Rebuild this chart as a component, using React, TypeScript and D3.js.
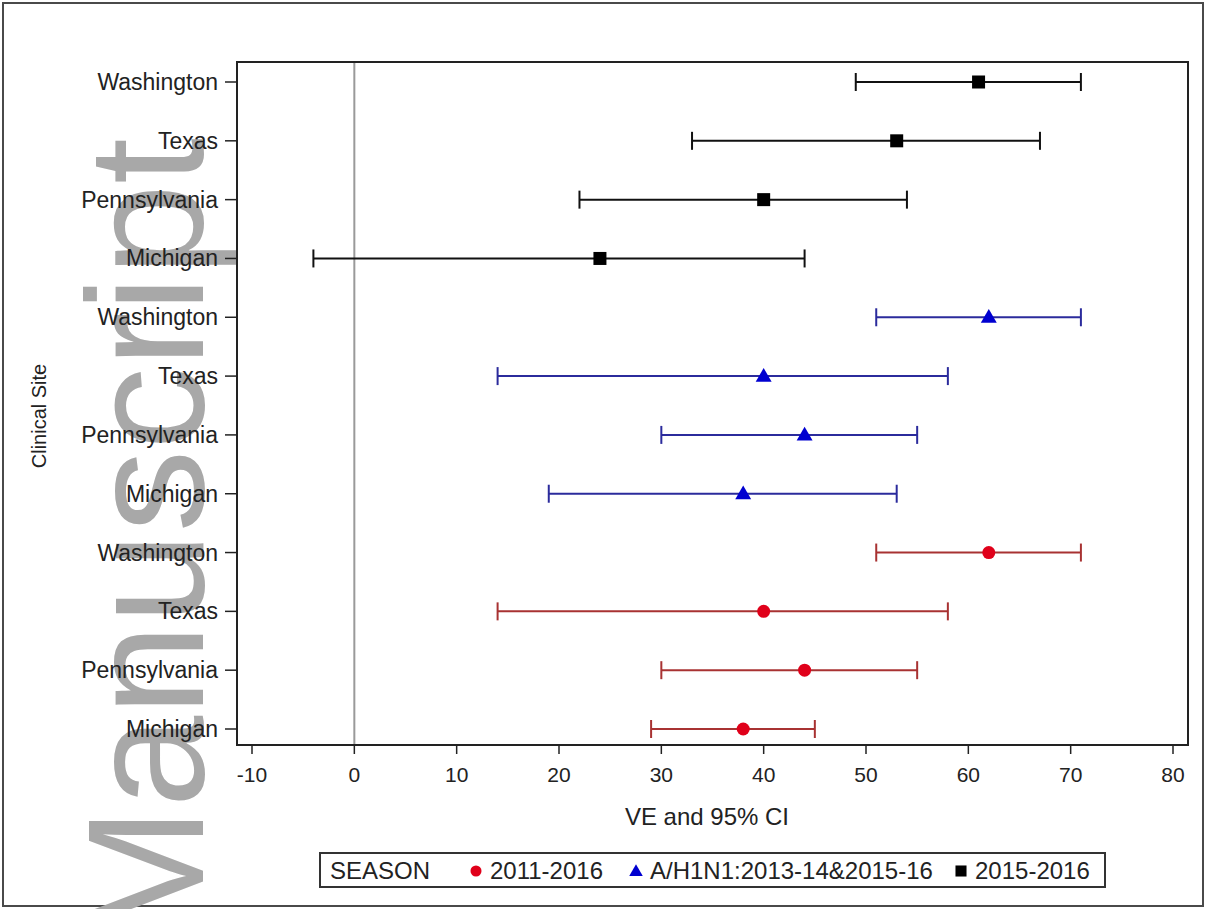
import React from "react";
import * as d3 from "d3";

// ---- data ----
const sites = ["Washington", "Texas", "Pennsylvania", "Michigan"];
const seasons = ["2015-2016", "A/H1N1:2013-14&2015-16", "2011-2016"]; // top to bottom groups
const legendOrder = ["2011-2016", "A/H1N1:2013-14&2015-16", "2015-2016"];

// estimates / CI per season, in order of `sites`
const est2015 = [61, 53, 40, 24];
const low2015 = [49, 33, 22, -4];
const up2015 = [71, 67, 54, 44];

const estH1N1 = [62, 40, 44, 38];
const lowH1N1 = [51, 14, 30, 19];
const upH1N1 = [71, 58, 55, 53];

const est2011 = [62, 40, 44, 38];
const low2011 = [51, 14, 30, 29];
const up2011 = [71, 58, 55, 45];

const xTicks = [-10, 0, 10, 20, 30, 40, 50, 60, 70, 80];

const seriesData: Record<string, { est: number[]; low: number[]; up: number[] }> = {
  "2015-2016": { est: est2015, low: low2015, up: up2015 },
  "A/H1N1:2013-14&2015-16": { est: estH1N1, low: lowH1N1, up: upH1N1 },
  "2011-2016": { est: est2011, low: low2011, up: up2011 },
};

const styles: Record<string, { marker: string; line: string; shape: string }> = {
  "2011-2016": { marker: "#e0001a", line: "#a83232", shape: "circle" },
  "A/H1N1:2013-14&2015-16": { marker: "#0000d0", line: "#2b2b9c", shape: "triangle" },
  "2015-2016": { marker: "#000000", line: "#111111", shape: "square" },
};

const FONT = "'Liberation Sans', Arial, Helvetica, sans-serif";

function Marker({ shape, x, y, color, s = 1 }: { shape: string; x: number; y: number; color: string; s?: number }) {
  if (shape === "circle") return <circle cx={x} cy={y} r={6.5 * s} fill={color} />;
  if (shape === "square") return <rect x={x - 6.5 * s} y={y - 6.5 * s} width={13 * s} height={13 * s} fill={color} />;
  const sym = d3.symbol().type(d3.symbolTriangle).size(110 * s * s)();
  return <path d={sym || ""} transform={`translate(${x},${y + 1})`} fill={color} />;
}

export default function App() {
  const W = 1208, H = 909;
  const plot = { left: 237, right: 1188, top: 62, bottom: 745 };

  const x = d3.scaleLinear().domain([-10, 80]).range([252, 1173]);
  const rows: { key: string; site: string; season: string; i: number }[] = [];
  seasons.forEach((season) => sites.forEach((site, i) => rows.push({ key: season + "|" + site, site, season, i })));
  const y = d3.scalePoint<string>().domain(rows.map((r) => r.key)).range([82, 729]);

  return (
    <svg width={W} height={H} style={{ position: "absolute", left: 0, top: 0, background: "#fff" }} fontFamily={FONT}>
      <rect x={0} y={0} width={W} height={H} fill="#fff" />
      {/* outer border */}
      <rect x={3} y={3} width={1200} height={903} fill="none" stroke="#4a4a4a" strokeWidth={2} />

      {/* watermark */}
      <text
        transform={`translate(203,945) rotate(-90)`}
        fontSize={165}
        fill="#a8a8a8"
        fontFamily={FONT}
      >
        Manuscript
      </text>

      {/* zero reference line */}
      <line x1={x(0)} x2={x(0)} y1={plot.top} y2={plot.bottom} stroke="#9a9a9a" strokeWidth={2} />

      {/* plot frame */}
      <rect x={plot.left} y={plot.top} width={plot.right - plot.left} height={plot.bottom - plot.top} fill="none" stroke="#222" strokeWidth={2} />

      {/* y ticks & labels */}
      {rows.map((r) => (
        <g key={"yt" + r.key}>
          <line x1={plot.left - 12} x2={plot.left} y1={y(r.key)} y2={y(r.key)} stroke="#222" strokeWidth={1.5} />
          <text x={218} y={(y(r.key) as number) + 8} textAnchor="end" fontSize={23} fill="#222">
            {r.site}
          </text>
        </g>
      ))}

      {/* x ticks & labels */}
      {xTicks.map((t) => (
        <g key={"xt" + t}>
          <line x1={x(t)} x2={x(t)} y1={plot.bottom} y2={plot.bottom + 9} stroke="#222" strokeWidth={1.5} />
          <text x={x(t)} y={782} textAnchor="middle" fontSize={21} fill="#222">
            {t}
          </text>
        </g>
      ))}

      {/* axis titles */}
      <text x={707} y={825} textAnchor="middle" fontSize={24} fill="#222">
        VE and 95% CI
      </text>
      <text transform={`translate(46,416) rotate(-90)`} textAnchor="middle" fontSize={20} fill="#222">
        Clinical Site
      </text>

      {/* error bars & markers */}
      {rows.map((r) => {
        const d = seriesData[r.season];
        const st = styles[r.season];
        const yy = y(r.key) as number;
        const x0 = x(d.low[r.i]);
        const x1 = x(d.up[r.i]);
        return (
          <g key={"eb" + r.key}>
            <line x1={x0} x2={x1} y1={yy} y2={yy} stroke={st.line} strokeWidth={2} />
            <line x1={x0} x2={x0} y1={yy - 9} y2={yy + 9} stroke={st.line} strokeWidth={2} />
            <line x1={x1} x2={x1} y1={yy - 9} y2={yy + 9} stroke={st.line} strokeWidth={2} />
            <Marker shape={st.shape} x={x(d.est[r.i])} y={yy} color={st.marker} />
          </g>
        );
      })}

      {/* legend */}
      <rect x={320} y={853} width={785} height={34} fill="#fff" stroke="#333" strokeWidth={2} />
      <text x={330} y={879} fontSize={24} fill="#222">SEASON</text>
      {(() => {
        const pos = [
          { mx: 476, tx: 490 },
          { mx: 636, tx: 650 },
          { mx: 961, tx: 975 },
        ];
        return legendOrder.map((s, i) => (
          <g key={"lg" + s}>
            <Marker shape={styles[s].shape} x={pos[i].mx} y={871} color={styles[s].marker} s={0.85} />
            <text x={pos[i].tx} y={879} fontSize={24} fill="#222">
              {s}
            </text>
          </g>
        ));
      })()}
    </svg>
  );
}
